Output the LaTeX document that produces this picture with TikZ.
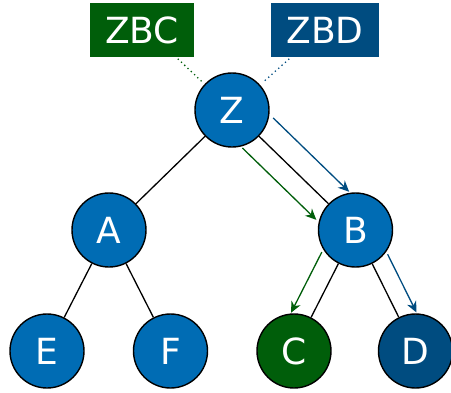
\documentclass[tikz,border=0pt]{standalone}
\usepackage{fontspec}
\setmainfont{DejaVu Sans}
\usetikzlibrary{calc,arrows.meta}
\definecolor{nodeblue}{RGB}{0,108,180}
\definecolor{pathgreen}{RGB}{0,94,10}
\definecolor{pathblue}{RGB}{0,76,128}
\begin{document}
\begin{tikzpicture}[x=1pt,y=-1pt,
  tnode/.style={circle,draw=black,line width=1.4pt,fill=nodeblue,
    minimum size=74pt,inner sep=0pt,text=white,
    font=\fontsize{36}{40}\selectfont},
  tag/.style={rectangle,inner sep=0pt,minimum height=54pt,text=white,
    font=\fontsize{36}{40}\selectfont},
  edge/.style={draw=black,line width=1.3pt},
  link/.style={line width=1.8pt,line cap=round,dash pattern=on 0pt off 4.5pt},
  walk/.style={line width=1.3pt,-{Stealth[length=11pt,width=10pt,inset=3.5pt]}},
]
\useasboundingbox (0,0) rectangle (451,392);

% tree
\node[tnode] (Z) at (232,110) {Z};
\node[tnode] (A) at (109,230) {A};
\node[tnode] (B) at (355.5,230) {B};
\node[tnode] (E) at (47,351) {E};
\node[tnode] (F) at (170.5,351) {F};
\node[tnode,fill=pathgreen] (C) at (294,351) {C};
\node[tnode,fill=pathblue] (D) at (415.5,351) {D};

\draw[edge] (Z) -- (A);
\draw[edge] (Z) -- (B);
\draw[edge] (A) -- (E);
\draw[edge] (A) -- (F);
\draw[edge] (B) -- (C);
\draw[edge] (B) -- (D);

% path labels
\node[tag,fill=pathgreen,minimum width=104pt] (ZBC) at (142,30) {ZBC};
\node[tag,fill=pathblue,minimum width=108pt] (ZBD) at (325,30) {ZBD};
\coordinate (zbcfoot) at ($(ZBC.south east)+(-16,2)$);
\coordinate (zbdfoot) at ($(ZBD.south west)+(18,2)$);
\draw[link,draw=pathgreen,shorten >=4pt] (zbcfoot) -- (Z);
\draw[link,draw=pathblue,shorten >=4pt] (zbdfoot) -- (Z);

% walks along the two paths
\draw[walk,pathblue] ($(Z)!35pt!(B)!23pt!90:(B)$) -- ($(Z)!141pt!(B)!23pt!90:(B)$);
\draw[walk,pathgreen] ($(Z)!34pt!(B)!20pt!-90:(B)$) -- ($(Z)!137pt!(B)!20pt!-90:(B)$);
\draw[walk,pathgreen] ($(B)!35pt!(C)!20pt!-90:(C)$) -- ($(B)!103pt!(C)!20pt!-90:(C)$);
\draw[walk,pathblue] ($(B)!36pt!(D)!18pt!90:(D)$) -- ($(B)!101pt!(D)!18pt!90:(D)$);
\end{tikzpicture}
\end{document}
